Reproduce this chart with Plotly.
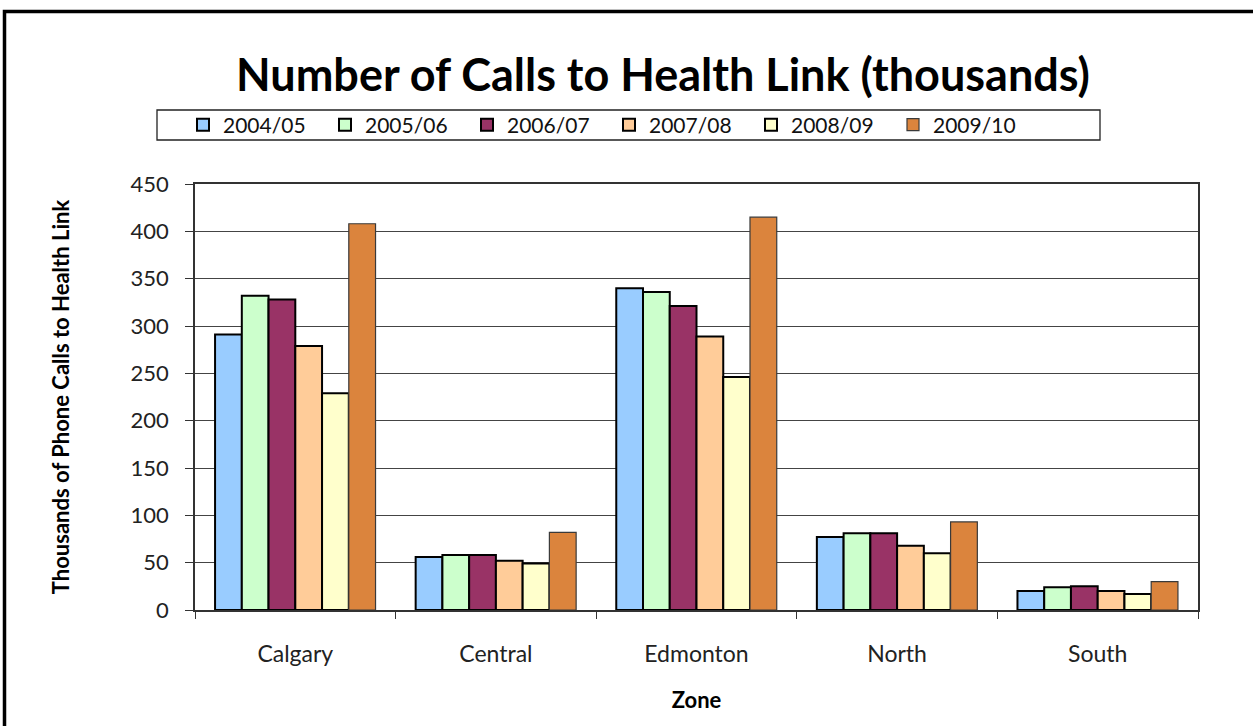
import plotly.graph_objects as go

zones = ["Calgary", "Central", "Edmonton", "North", "South"]
years = ["2004/05", "2005/06", "2006/07", "2007/08", "2008/09", "2009/10"]
v2004 = [291, 56, 340, 77, 20]
v2005 = [332, 58, 336, 81, 24]
v2006 = [328, 58, 321, 81, 25]
v2007 = [279, 52, 289, 68, 20]
v2008 = [229, 49, 246, 60, 17]
v2009 = [408, 82, 415, 93, 30]
series = [v2004, v2005, v2006, v2007, v2008, v2009]
colors = ["#99CCFF", "#CCFFCC", "#993366", "#FFCC99", "#FFFFCC", "#DB843D"]
edge = ["#000000"] * 5 + ["#3a3a3a"]
edgew = [2, 2, 2, 2, 2, 1.2]

W, H = 1253, 726
L, R, T, B = 195, 1198, 184, 610   # plot area in reference coordinates
pw, ph = R - L, B - T

def px_x(x):
    return (x - L) / pw

def px_y(y):
    return (B - y) / ph

fig = go.Figure()
for name, vals, c, e, w in zip(years, series, colors, edge, edgew):
    fig.add_trace(go.Bar(name=name, x=zones, y=vals, marker=dict(color=c, line=dict(color=e, width=w))))

font_family = "Lato, Open Sans, sans-serif"
fig.update_layout(
    width=W, height=H,
    margin=dict(l=L, r=W - R, t=T, b=H - B, pad=0),
    paper_bgcolor="white", plot_bgcolor="white",
    barmode="group", bargap=0.2, bargroupgap=0,
    font=dict(family=font_family, color="#222"),
    title=dict(text="<b>Number of Calls to Health Link (thousands)</b>",
               x=663 / W, xanchor="center", y=1 - 75 / H, yanchor="middle",
               font=dict(size=45, color="black", family=font_family)),
    legend=dict(orientation="h", x=px_x(183), xanchor="left", y=px_y(125), yanchor="middle",
                font=dict(size=21, color="#111"), entrywidth=97, itemwidth=30,
                bgcolor="rgba(0,0,0,0)", traceorder="normal"),
    showlegend=True,
    xaxis=dict(showgrid=False, showline=True, linecolor="#333", linewidth=1.5, mirror=True,
               ticks="outside", tickson="boundaries", ticklen=7, tickcolor="#333",
               ticklabelstandoff=23,
               tickfont=dict(size=23, color="#222"),
               title=dict(text="<b>Zone</b>", font=dict(size=22, color="black"), standoff=26)),
    yaxis=dict(range=[0, 450], dtick=50, showgrid=True, gridcolor="#444", gridwidth=1.3,
               showline=True, linecolor="#333", linewidth=1.5, mirror=True,
               ticks="outside", ticklen=8, tickcolor="#333", zeroline=False,
               ticklabelstandoff=12,
               tickfont=dict(size=22, color="#222"),
               title=dict(text="<b>Thousands of Phone Calls to Health Link</b>",
                          font=dict(size=22, color="black"), standoff=55)),
    shapes=[
        dict(type="rect", xref="paper", yref="paper", x0=px_x(157), x1=px_x(1100),
             y0=px_y(140), y1=px_y(110), line=dict(color="#222", width=1.3), layer="below"),
        dict(type="rect", xref="paper", yref="paper", x0=px_x(4.5), x1=px_x(1300),
             y0=px_y(780), y1=px_y(11.5), line=dict(color="black", width=3.5), layer="above"),
    ],
)

fig.write_html(
    "out.html",
    config={"displayModeBar": False},
    post_script="document.body.style.margin='0';document.body.style.overflow='hidden';",
)
